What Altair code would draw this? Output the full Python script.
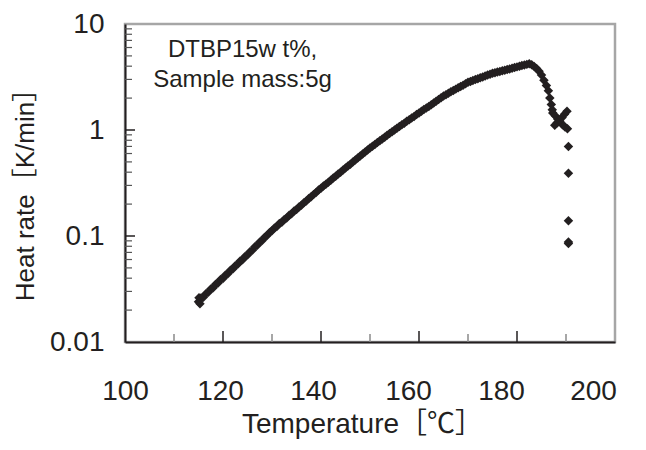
import altair as alt
import pandas as pd

# ---- data ----
temperature = [
    115.0, 115.1, 115.3, 115.5, 116.0, 116.5, 117.0, 117.5, 118.0, 118.5, 119.0, 119.5,
    120.0, 120.5, 121.0, 121.5, 122.0, 122.5, 123.0, 123.5, 124.0, 124.5, 125.0, 125.5,
    126.0, 126.5, 127.0, 127.5, 128.0, 128.5, 129.0, 129.5, 130.0, 130.5, 131.0, 131.5,
    132.0, 132.5, 133.0, 133.5, 134.0, 134.5, 135.0, 135.5, 136.0, 136.5, 137.0, 137.5,
    138.0, 138.5, 139.0, 139.5, 140.0, 140.5, 141.0, 141.5, 142.0, 142.5, 143.0, 143.5,
    144.0, 144.5, 145.0, 145.5, 146.0, 146.5, 147.0, 147.5, 148.0, 148.5, 149.0, 149.5,
    150.0, 150.5, 151.0, 151.5, 152.0, 152.5, 153.0, 153.5, 154.0, 154.5, 155.0, 155.5,
    156.0, 156.5, 157.0, 157.5, 158.0, 158.5, 159.0, 159.5, 160.0, 160.5, 161.0, 161.5,
    162.0, 162.5, 163.0, 163.5, 164.0, 164.5, 165.0, 165.5, 166.0, 166.5, 167.0, 167.5,
    168.0, 168.5, 169.0, 169.5, 170.0, 170.5, 171.0, 171.5, 172.0, 172.5, 173.0, 173.5,
    174.0, 174.5, 175.0, 175.5, 176.0, 176.5, 177.0, 177.5, 178.0, 178.5, 179.0, 179.5,
    180.0, 180.5, 181.0, 181.5, 182.0, 182.5, 183.0, 183.5, 184.0, 184.5, 185.0, 185.5,
    186.0, 186.4, 186.7, 187.0, 187.2,
    187.3, 187.8, 188.3, 188.8, 189.3, 189.8, 190.3,
    190.2, 189.7, 189.2, 188.7, 188.2, 187.7,
    190.5, 190.5, 190.5, 190.5, 190.5,
]
heat_rate = [
    0.0240, 0.0262, 0.0230, 0.0260, 0.0265, 0.0285, 0.0294, 0.0316, 0.0325, 0.0350, 0.0360, 0.0388,
    0.0398, 0.0428, 0.0441, 0.0475, 0.0488, 0.0525, 0.0540, 0.0580, 0.0597, 0.0642, 0.0661, 0.0712,
    0.0735, 0.0790, 0.0817, 0.0878, 0.0908, 0.0975, 0.101, 0.108, 0.112, 0.119, 0.123, 0.131,
    0.135, 0.143, 0.148, 0.157, 0.162, 0.172, 0.178, 0.188, 0.195, 0.206, 0.214, 0.226,
    0.234, 0.247, 0.257, 0.271, 0.282, 0.296, 0.308, 0.322, 0.336, 0.352, 0.366, 0.384,
    0.400, 0.419, 0.437, 0.457, 0.476, 0.498, 0.520, 0.544, 0.568, 0.593, 0.619, 0.647,
    0.676, 0.703, 0.731, 0.761, 0.791, 0.823, 0.855, 0.890, 0.925, 0.962, 1.00, 1.04,
    1.08, 1.12, 1.16, 1.21, 1.25, 1.30, 1.34, 1.40, 1.45, 1.50, 1.56, 1.61,
    1.67, 1.73, 1.80, 1.87, 1.94, 2.01, 2.09, 2.15, 2.22, 2.29, 2.36, 2.43,
    2.50, 2.57, 2.65, 2.73, 2.82, 2.87, 2.93, 2.99, 3.05, 3.11, 3.17, 3.23,
    3.30, 3.36, 3.43, 3.47, 3.52, 3.57, 3.62, 3.67, 3.72, 3.77, 3.83, 3.88,
    3.94, 3.99, 4.05, 4.10, 4.16, 4.22, 4.12, 3.98, 3.80, 3.59, 3.31, 2.95,
    2.63, 2.34, 2.00, 1.74, 1.55,
    1.45, 1.36, 1.27, 1.19, 1.12, 1.07, 1.03,
    1.50, 1.41, 1.31, 1.24, 1.17, 1.11,
    0.70, 0.39, 0.139, 0.088, 0.085,
]

x_tick_labels = [100, 120, 140, 160, 180, 200]
x_major_ticks = [120, 140, 160, 180]
x_minor_ticks = [110, 130, 150, 170, 190]
y_tick_labels = [0.01, 0.1, 1, 10]
y_major_ticks = [0.1, 1]
y_minor_ticks = [0.02, 0.03, 0.04, 0.05, 0.06, 0.07, 0.08, 0.09,
                 0.2, 0.3, 0.4, 0.5, 0.6, 0.7, 0.8, 0.9,
                 2, 3, 4, 5, 6, 7, 8, 9]
note_lines = ["DTBP15w t%,", "Sample mass:5g"]
note_x = [124, 124]
note_y = [4.9, 2.55]

FONT = "Liberation Sans, Arial, Noto Sans CJK JP"
INK = "#231f20"
W, H = 490, 318

df = pd.DataFrame({"T": temperature, "R": heat_rate})
notes = pd.DataFrame({"text": note_lines, "T": note_x, "R": note_y})
xmaj = pd.DataFrame({"T": x_major_ticks})
xmin = pd.DataFrame({"T": x_minor_ticks})
ymaj = pd.DataFrame({"R": y_major_ticks})
ymin = pd.DataFrame({"R": y_minor_ticks})

xscale = alt.Scale(domain=[100, 200], nice=False, zero=False)
yscale = alt.Scale(type="log", domain=[0.01, 10], nice=False)

label_shift = {
    "condition": [
        {"test": "datum.value == 120", "value": -3},
        {"test": "datum.value == 140", "value": -8},
        {"test": "datum.value == 160", "value": -11},
        {"test": "datum.value == 180", "value": -16},
        {"test": "datum.value == 200", "value": -22},
    ],
    "value": 0,
}

points = alt.Chart(df).mark_point(
    shape="diamond", filled=True, size=90, color=INK, opacity=1
).encode(
    x=alt.X("T:Q", scale=xscale, axis=alt.Axis(
        orient="bottom", values=x_tick_labels, ticks=False, tickSize=0, grid=False,
        domainColor=INK, domainWidth=2, labelFont=FONT, labelFontSize=28,
        labelColor=INK, labelPadding=35, labelOffset=label_shift, labelFlush=False,
        labelOverlap=False, title="Temperature［℃］", titleFont=FONT, titleFontSize=28,
        titleFontWeight="normal", titleColor=INK, titleX=237, titlePadding=5)),
    y=alt.Y("R:Q", scale=yscale, axis=alt.Axis(
        orient="left", values=y_tick_labels, format="~g", ticks=False, tickSize=0,
        grid=False, domainColor=INK, domainWidth=2, labelFont=FONT, labelFontSize=28,
        labelColor=INK, labelPadding=21, labelFlush=False, labelOverlap=False,
        title="Heat rate［K/min］", titleFont=FONT, titleFontSize=26,
        titleFontWeight="normal", titleColor=INK, titleX=-87, titleY=164,
        titleBaseline="bottom")),
)

xmaj_ticks = alt.Chart(xmaj).mark_rule(color=INK, strokeWidth=1.5).encode(
    x=alt.X("T:Q", scale=xscale), y=alt.value(H), y2=alt.value(H - 11))
xmin_ticks = alt.Chart(xmin).mark_rule(color="#8a8a8a", strokeWidth=1.5).encode(
    x=alt.X("T:Q", scale=xscale), y=alt.value(H), y2=alt.value(H - 8))
ymaj_ticks = alt.Chart(ymaj).mark_rule(color=INK, strokeWidth=1.5).encode(
    y=alt.Y("R:Q", scale=yscale), x=alt.value(0), x2=alt.value(10))
ymin_ticks = alt.Chart(ymin).mark_rule(color="#555555", strokeWidth=1.2).encode(
    y=alt.Y("R:Q", scale=yscale), x=alt.value(0), x2=alt.value(7))

note = alt.Chart(notes).mark_text(
    font=FONT, fontSize=24, color=INK, align="center", baseline="alphabetic"
).encode(
    x=alt.X("T:Q", scale=xscale),
    y=alt.Y("R:Q", scale=yscale),
    text="text:N",
)

chart = alt.layer(xmin_ticks, xmaj_ticks, ymin_ticks, ymaj_ticks, points, note).properties(
    width=W, height=H,
    autosize=alt.AutoSizeParams(type="none"),
    padding={"left": 117, "top": 16, "right": 20, "bottom": 100},
    background="white",
).configure_view(stroke="#a6a6a6", strokeWidth=2.5)

chart.save("out.html", embed_options={"renderer": "svg", "actions": False})
